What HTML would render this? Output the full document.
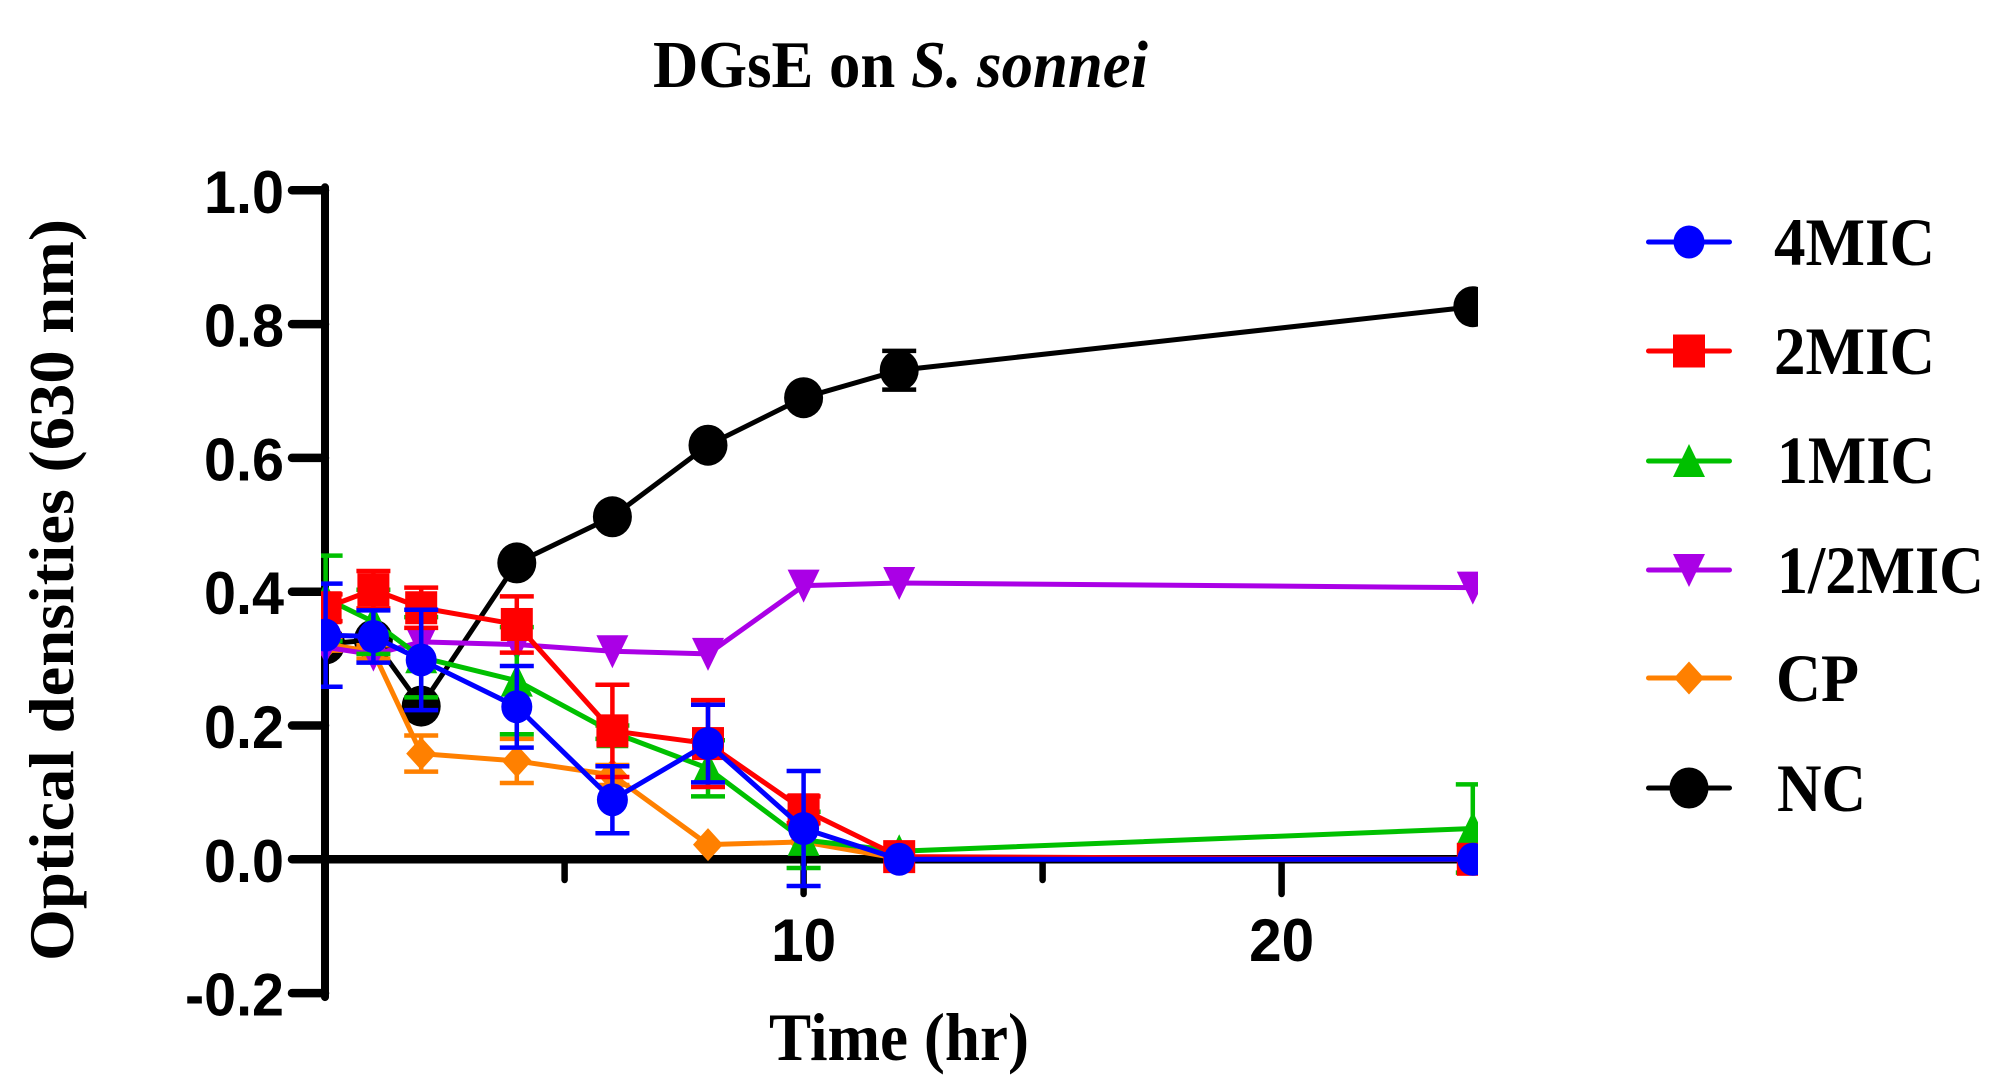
<!DOCTYPE html>
<html lang="en">
<head>
<meta charset="utf-8">
<title>DGsE on S. sonnei</title>
<style>
  html, body { margin: 0; padding: 0; background: #fff; }
  svg { display: block; }
  text { fill: #000; font-weight: bold; }
  .serif { font-family: "Liberation Serif", serif; }
  .sans { font-family: "Liberation Sans", sans-serif; }
</style>
</head>
<body>
<svg id="chart" xmlns="http://www.w3.org/2000/svg" width="2010" height="1091" viewBox="0 0 2010 1091">
  <rect x="0" y="0" width="2010" height="1091" fill="#fff"/>
  <defs>
    <clipPath id="plot-clip"><rect x="321" y="100" width="1157" height="960"/></clipPath>
  </defs>
  <text class="serif" x="653" y="87" font-size="67" textLength="495" lengthAdjust="spacingAndGlyphs">DGsE on <tspan font-style="italic">S. sonnei</tspan></text>
  <text class="serif" transform="translate(73,961) rotate(-90)" x="0" y="0" font-size="64" textLength="742" lengthAdjust="spacingAndGlyphs">Optical densities (630 nm)</text>
  <text class="serif" x="769" y="1060" font-size="68" textLength="260" lengthAdjust="spacingAndGlyphs">Time (hr)</text>
  <g id="axes"></g>
  <g id="plot" clip-path="url(#plot-clip)"></g>
  <g id="legend"></g>
</svg>
<script>
// ---- data ----
const times = [0, 1, 2, 4, 6, 8, 10, 12, 24];
const yTicks = [-0.2, 0, 0.2, 0.4, 0.6, 0.8, 1.0];
const yTickLabels = ["-0.2", "0.0", "0.2", "0.4", "0.6", "0.8", "1.0"];
const xMajorTicks = [10, 20];
const xMajorTickLabels = ["10", "20"];
const xMinorTicks = [5, 15];

const seriesNames = ["NC", "CP", "1/2MIC", "1MIC", "2MIC", "4MIC"];
const legendOrder = ["4MIC", "2MIC", "1MIC", "1/2MIC", "CP", "NC"];

const valuesNC = [0.322, 0.328, 0.229, 0.443, 0.512, 0.619, 0.690, 0.731, 0.826];
const errorsNC = [0.010, 0.010, 0.010, 0.010, 0.010, 0.010, 0.010, 0.029, 0];
const valuesCP = [0.322, 0.310, 0.158, 0.147, 0.126, 0.022, 0.026, 0.001, 0];
const errorsCP = [0.010, 0.010, 0.027, 0.033, 0.015, 0, 0, 0, 0];
const valuesHalfMIC = [0.317, 0.306, 0.325, 0.321, 0.311, 0.307, 0.409, 0.413, 0.406];
const errorsHalfMIC = [0, 0, 0, 0, 0, 0, 0, 0, 0];
const values1MIC = [0.390, 0.355, 0.302, 0.267, 0.190, 0.136, 0.029, 0.012, 0.046];
const errors1MIC = [0.064, 0.048, 0.060, 0.080, 0.010, 0.042, 0.042, 0, 0.066];
const values2MIC = [0.376, 0.403, 0.376, 0.351, 0.192, 0.173, 0.074, 0.004, 0];
const errors2MIC = [0.020, 0.028, 0.030, 0.042, 0.069, 0.065, 0.020, 0, 0];
const values4MIC = [0.335, 0.333, 0.298, 0.228, 0.089, 0.173, 0.046, 0, 0];
const errors4MIC = [0.077, 0.039, 0.075, 0.061, 0.050, 0.058, 0.086, 0, 0];

const SVGNS = "http://www.w3.org/2000/svg";

// ---- axis functions ----
function xScale(t) { return 325.6 + t * 47.8; }
function yScale(v) { return 859.3 - v * 669; }

function make(tag, attrs, parent) {
  const el = document.createElementNS(SVGNS, tag);
  for (const k in attrs) el.setAttribute(k, attrs[k]);
  parent.appendChild(el);
  return el;
}

const axes = document.getElementById("axes");
const plot = document.getElementById("plot");
const legend = document.getElementById("legend");

// ---- axes ----
const yAxisLine = make("line", { x1: 325, x2: 325, y1: yScale(1.0) - 3, y2: yScale(-0.2) + 4, stroke: "#000", "stroke-width": 8, "stroke-linecap": "round" }, axes);



const xAxisLine = make("line", { x1: 325, x2: 1478, y1: yScale(0), y2: yScale(0), stroke: "#000", "stroke-width": 8.5 }, axes);



yTicks.forEach(function (v, i) {
  const tick = make("line", { x1: 292, x2: 325, y1: yScale(v), y2: yScale(v), stroke: "#000", "stroke-width": 8.5, "stroke-linecap": "round" }, axes);
  
  
  const label = make("text", { class: "sans", x: 284, y: yScale(v) + 22.5, "font-size": 60, "text-anchor": "end", textLength: yTickLabels[i].length === 4 ? 99 : 80, lengthAdjust: "spacingAndGlyphs" }, axes);
  label.textContent = yTickLabels[i];
  
  
});

xMinorTicks.forEach(function (t) {
  const tick = make("line", { x1: xScale(t), x2: xScale(t), y1: yScale(0), y2: 880, stroke: "#000", "stroke-width": 6.5, "stroke-linecap": "round" }, axes);
  
  
});

xMajorTicks.forEach(function (t, i) {
  const tick = make("line", { x1: xScale(t), x2: xScale(t), y1: yScale(0), y2: 894, stroke: "#000", "stroke-width": 6.5, "stroke-linecap": "round" }, axes);
  
  
  const label = make("text", { class: "sans", x: xScale(t), y: 961, "font-size": 60, "text-anchor": "middle", textLength: 65, lengthAdjust: "spacingAndGlyphs" }, axes);
  label.textContent = xMajorTickLabels[i];
  
  
});

// ---- markers ----
function drawMarker(shape, color, cx, cy, parent) {
  if (shape === "circle") return make("ellipse", { cx: cx, cy: cy, rx: 15.5, ry: 16.5, fill: color }, parent);
  if (shape === "bigcircle") return make("ellipse", { cx: cx, cy: cy, rx: 19.5, ry: 20.5, fill: color }, parent);
  if (shape === "square") return make("rect", { x: cx - 16, y: cy - 16.5, width: 32, height: 33, fill: color }, parent);
  if (shape === "up") return make("polygon", { points: (cx - 16) + "," + (cy + 16) + " " + (cx + 16) + "," + (cy + 16) + " " + cx + "," + (cy - 17), fill: color }, parent);
  if (shape === "down") return make("polygon", { points: (cx - 16) + "," + (cy - 16) + " " + (cx + 16) + "," + (cy - 16) + " " + cx + "," + (cy + 17), fill: color }, parent);
  return make("polygon", { points: (cx - 15) + "," + cy + " " + cx + "," + (cy - 16.5) + " " + (cx + 15) + "," + cy + " " + cx + "," + (cy + 16.5), fill: color }, parent);
}

const seriesStyle = {
  "NC": { color: "#000000", shape: "bigcircle", values: valuesNC, errors: errorsNC, legendY: 788, baseY: 811, textX: 1777, textW: 89 },
  "CP": { color: "#ff8000", shape: "diamond", values: valuesCP, errors: errorsCP, legendY: 678, baseY: 701, textX: 1776, textW: 83 },
  "1/2MIC": { color: "#aa00e6", shape: "down", values: valuesHalfMIC, errors: errorsHalfMIC, legendY: 570, baseY: 593, textX: 1777, textW: 207 },
  "1MIC": { color: "#00c000", shape: "up", values: values1MIC, errors: errors1MIC, legendY: 461, baseY: 483, textX: 1777, textW: 158 },
  "2MIC": { color: "#ff0000", shape: "square", values: values2MIC, errors: errors2MIC, legendY: 351, baseY: 374, textX: 1774, textW: 161 },
  "4MIC": { color: "#0000ff", shape: "circle", values: values4MIC, errors: errors4MIC, legendY: 242, baseY: 265, textX: 1774, textW: 161 }
};

// ---- series ----
seriesNames.forEach(function (name) {
  const s = seriesStyle[name];
  const g = make("g", {}, plot);
  
  

  const pts = times.map(function (t, i) { return xScale(t) + "," + yScale(s.values[i]); }).join(" ");
  const line = make("polyline", { points: pts, fill: "none", stroke: s.color, "stroke-width": 5, "stroke-linejoin": "round" }, g);
  
  

  times.forEach(function (t, i) {
    if (s.errors[i] === 0) return;
    const x = xScale(t);
    const hi = yScale(s.values[i] + s.errors[i]);
    const lo = yScale(s.values[i] - s.errors[i]);
    const err = make("path", { d: "M" + x + " " + hi + "V" + lo + "M" + (x - 17) + " " + hi + "H" + (x + 17) + "M" + (x - 17) + " " + lo + "H" + (x + 17), fill: "none", stroke: s.color, "stroke-width": 4.5 }, g);
    
    
  });

  times.forEach(function (t, i) {
    const mark = drawMarker(s.shape, s.color, xScale(t), yScale(s.values[i]), g);
    
    
  });
});

// ---- legend ----
legendOrder.forEach(function (name) {
  const s = seriesStyle[name];
  const g = make("g", {}, legend);
  
  
  const line = make("line", { x1: 1648.5, x2: 1729.5, y1: s.legendY, y2: s.legendY, stroke: s.color, "stroke-width": 5, "stroke-linecap": "round" }, g);
  
  
  const mark = drawMarker(s.shape, s.color, 1689, s.legendY, g);
  
  
  const label = make("text", { class: "serif", x: s.textX, y: s.baseY, "font-size": 68, textLength: s.textW, lengthAdjust: "spacingAndGlyphs" }, g);
  label.textContent = name;
  
  
});
</script>
</body>
</html>
